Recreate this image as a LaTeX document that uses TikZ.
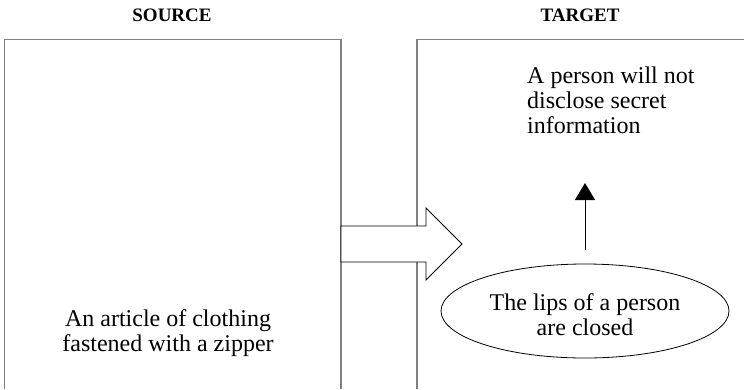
\documentclass[tikz,border=0pt]{standalone}
\usepackage{fontspec}
\setmainfont{Liberation Serif}
\usetikzlibrary{arrows.meta,shapes.geometric}
\begin{document}
\begin{tikzpicture}[x=1pt,y=-1pt,
  frame/.style={draw=black!50,line width=1.4pt},
  title/.style={font=\fontsize{19}{23}\selectfont\bfseries,inner sep=0pt},
  body/.style={font=\fontsize{24}{25}\selectfont,inner sep=0pt},
  blockarrow/.style={draw=black,fill=white,line width=0.8pt,line join=miter},
  uparrow/.style={draw=black,line width=1pt,-{Triangle[width=20pt,length=17pt]}}]
\useasboundingbox (0,0) rectangle (744,389);

% panel headings
\node[title] (srctitle) at (172,15) {SOURCE};
\node[title] (tgttitle) at (580,15) {TARGET};

% open-bottomed panels
\coordinate (sa) at (4.7,389);
\coordinate (sb) at (4.7,39.5);
\coordinate (sc) at (341,39.5);
\coordinate (sd) at (341,389);
\draw[frame] (sa) -- (sb) -- (sc) -- (sd);
\coordinate (ta) at (417,389);
\coordinate (tb) at (417,39.5);
\coordinate (tc) at (750,39.5);
\draw[frame] (ta) -- (tb) -- (tc);

% block arrow from source to target
\coordinate (p1) at (341,226);
\coordinate (p2) at (426,226);
\coordinate (p3) at (426,208);
\coordinate (p4) at (462,244);
\coordinate (p5) at (426,280);
\coordinate (p6) at (426,262);
\coordinate (p7) at (341,262);
\draw[blockarrow] (p1) -- (p2) -- (p3) -- (p4) -- (p5) -- (p6) -- (p7) -- cycle;

% source text
\node[body,align=center] (srctext) at (168,333) {An article of clothing\\fastened with a zipper};

% target: ellipse and its meaning
\node[draw=black,line width=0.8pt,ellipse,minimum width=288pt,minimum height=94pt,
      inner sep=0pt] (lips) at (585,311) {};
\node[body,align=center] (lipstext) at (585,315) {The lips of a person\\are closed};
\node[body,align=left,anchor=west] (meaning) at (527,100) {A person will not\\disclose secret\\information};
\coordinate (tip) at (585,183);
\draw[uparrow] ([yshift=14pt]lips.north) -- (tip);
\end{tikzpicture}
\end{document}
